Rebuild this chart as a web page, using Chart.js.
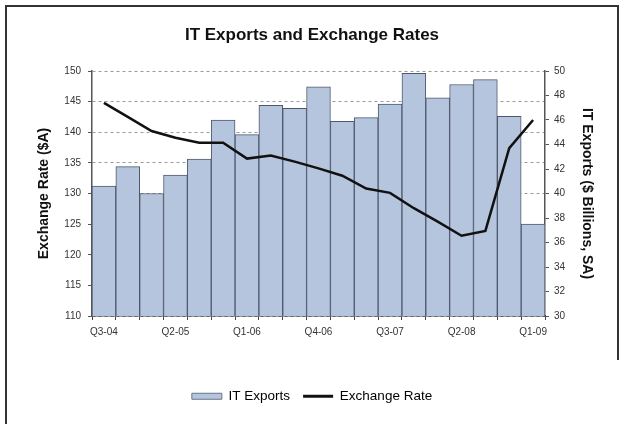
<!DOCTYPE html>
<html>
<head>
<meta charset="utf-8">
<script src="https://cdn.jsdelivr.net/npm/chart.js@4"></script>
<style>
  html, body { margin: 0; padding: 0; background: #fff; }
  #wrap { position: relative; width: 624px; height: 424px; overflow: hidden; background: #fff; }
  #c { position: absolute; left: 0; top: 0; }
  .edge { position: absolute; background: #333; }
</style>
</head>
<body>
<div id="wrap">
  <canvas id="c" width="624" height="424"></canvas>
  <div class="edge" style="left:5px;top:5px;width:614px;height:2px;"></div>
  <div class="edge" style="left:5px;top:5px;width:2px;height:430px;"></div>
  <div class="edge" style="left:617px;top:5px;width:2px;height:355px;"></div>
</div>
<script>
// Quarterly categories, Q3-04 through Q1-09
const categories = ['Q3-04','Q4-04','Q1-05','Q2-05','Q3-05','Q4-05','Q1-06','Q2-06','Q3-06','Q4-06',
                    'Q1-07','Q2-07','Q3-07','Q4-07','Q1-08','Q2-08','Q3-08','Q4-08','Q1-09'];
// IT exports, $ billions, seasonally adjusted (right axis)
const itExports = [40.6, 42.2, 40.0, 41.5, 42.8, 46.0, 44.8, 47.2, 46.95, 48.7,
                   45.9, 46.2, 47.3, 49.8, 47.8, 48.9, 49.3, 46.3, 37.5];
// Exchange rate, $A (left axis)
const exchangeRate = [144.8, 142.5, 140.2, 139.1, 138.3, 138.3, 135.7, 136.2, 135.2, 134.1,
                      132.9, 130.8, 130.1, 127.6, 125.4, 123.1, 123.9, 137.4, 142.0];
// Axis tick values
const rateTicks = [110, 115, 120, 125, 130, 135, 140, 145, 150];
const exportTicks = [30, 32, 34, 36, 38, 40, 42, 44, 46, 48, 50];

const FONT = 'Liberation Sans, Arial, Helvetica, sans-serif';
const PLOT_BOTTOM = 316;
const BOTTOM_PAD = 11;

const ctx = document.getElementById('c').getContext('2d');
new Chart(ctx, {
  data: {
    labels: categories,
    datasets: [
      {
        type: 'bar',
        label: 'IT Exports',
        data: itExports,
        yAxisID: 'yExports',
        backgroundColor: '#b6c5de',
        borderColor: '#4e586c',
        borderWidth: 1,
        barPercentage: 1,
        categoryPercentage: 1,
        order: 2
      },
      {
        type: 'line',
        label: 'Exchange Rate',
        data: exchangeRate,
        yAxisID: 'yRate',
        borderColor: '#111111',
        backgroundColor: '#111111',
        borderWidth: 2.5,
        pointRadius: 0,
        tension: 0,
        order: 1
      }
    ]
  },
  options: {
    responsive: false,
    animation: false,
    layout: { padding: { left: 0, right: 0, top: 0, bottom: BOTTOM_PAD } },
    plugins: {
      tooltip: { enabled: false },
      title: {
        display: true,
        text: 'IT Exports and Exchange Rates',
        color: '#111',
        font: { family: FONT, size: 17, weight: 'bold', lineHeight: 1.2 },
        padding: { top: 25.3, bottom: 25.3 }
      },
      legend: {
        position: 'bottom',
        labels: {
          font: { family: FONT, size: 13.5 },
          color: '#333',
          usePointStyle: true,
          pointStyleWidth: 30,
          boxHeight: 6,
          padding: 13,
          sort: (a, b) => a.datasetIndex - b.datasetIndex,
          generateLabels: (chart) => chart.data.datasets.map((ds, i) => ({
            text: ds.label,
            datasetIndex: i,
            fillStyle: ds.backgroundColor,
            strokeStyle: ds.type === 'line' ? '#111111' : '#6a7488',
            lineWidth: ds.type === 'line' ? 3 : 1,
            pointStyle: ds.type === 'line' ? 'line' : 'rect',
            hidden: false
          }))
        }
      }
    },
    scales: {
      x: {
        type: 'category',
        offset: true,
        grid: {
          offset: true,
          drawOnChartArea: false,
          drawTicks: true,
          tickLength: 4,
          tickColor: '#444'
        },
        border: { color: '#333', width: 1.5 },
        ticks: {
          autoSkip: false,
          maxRotation: 0,
          padding: 6,
          color: '#333',
          font: { family: FONT, size: 10 },
          callback: (v, i) => (i % 3 === 0 ? categories[i] : '')
        },
        afterFit: (scale) => {
          const legendH = scale.chart.legend ? scale.chart.legend.height : 45;
          scale.height = 424 - PLOT_BOTTOM - legendH - BOTTOM_PAD;
        }
      },
      yRate: {
        type: 'linear',
        position: 'left',
        min: 110,
        max: 150,
        afterBuildTicks: (scale) => { scale.ticks = rateTicks.map(v => ({ value: v })); },
        grid: {
          color: '#9a9a9a',
          lineWidth: 1,
          drawTicks: true,
          tickLength: 4,
          tickColor: '#555',
          tickBorderDash: []
        },
        border: { color: '#555', width: 1.5, dash: [3, 3] },
        ticks: {
          padding: 7,
          color: '#333',
          font: { family: FONT, size: 10 }
        },
        title: {
          display: true,
          text: 'Exchange Rate ($A)',
          color: '#111',
          font: { family: FONT, size: 14, weight: 'bold', lineHeight: 1.2 },
          padding: { top: 35.6, bottom: 0 }
        },
        afterFit: (scale) => { scale.width = 92; }
      },
      yExports: {
        type: 'linear',
        position: 'right',
        min: 30,
        max: 50,
        afterBuildTicks: (scale) => { scale.ticks = exportTicks.map(v => ({ value: v })); },
        grid: {
          drawOnChartArea: false,
          drawTicks: true,
          tickLength: 4,
          tickColor: '#555'
        },
        border: { color: '#555', width: 1.5 },
        ticks: {
          padding: 5,
          color: '#333',
          font: { family: FONT, size: 10 }
        },
        title: {
          display: true,
          text: 'IT Exports ($ Billions, SA)',
          color: '#111',
          font: { family: FONT, size: 14, weight: 'bold', lineHeight: 1.2 },
          padding: { top: 28.6, bottom: 0 }
        },
        afterFit: (scale) => { scale.width = 79; }
      }
    }
  }
});
</script>
</body>
</html>
